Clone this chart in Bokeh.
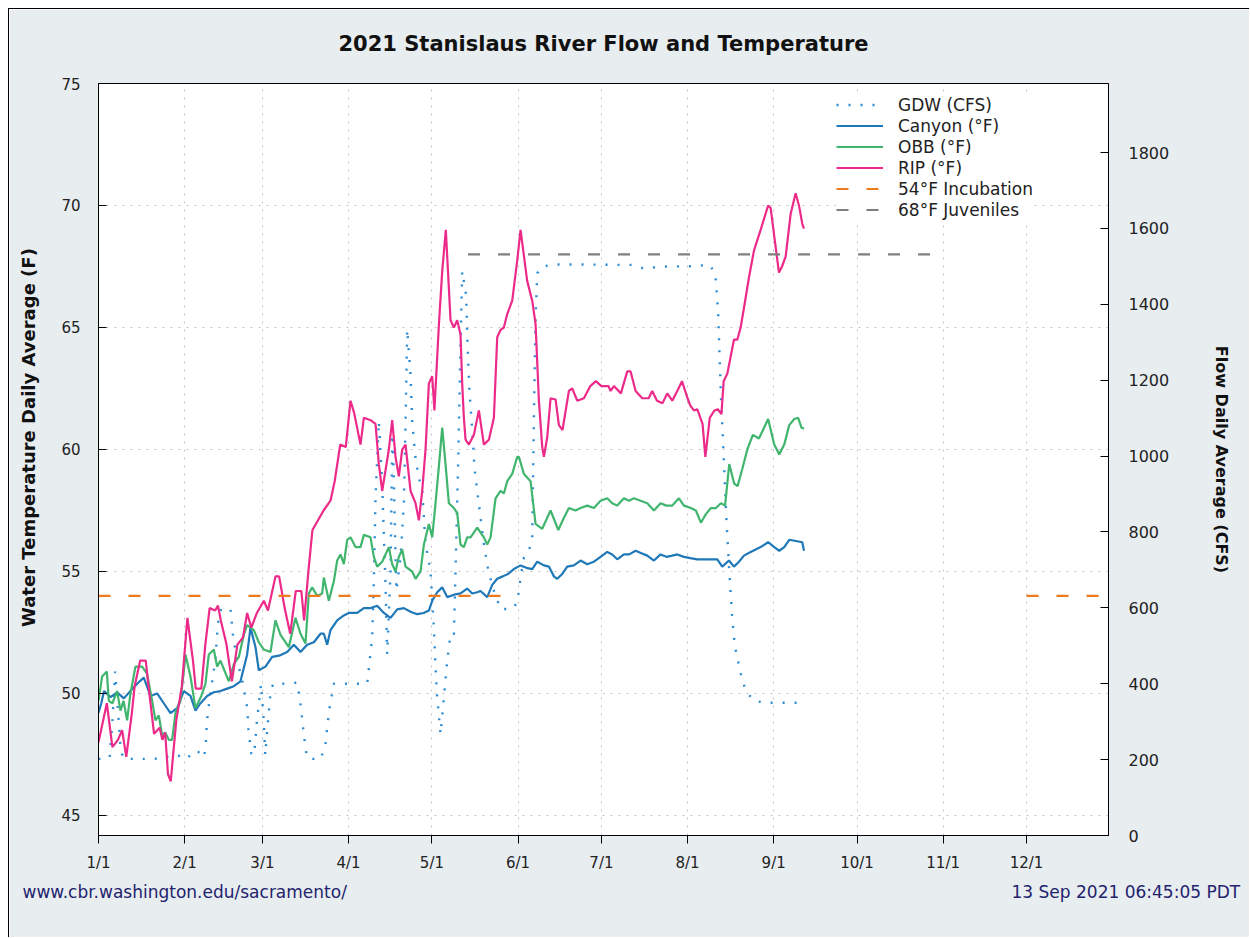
from bokeh.plotting import figure
from bokeh.models import Range1d, LinearAxis, FixedTicker, Legend, LegendItem, Title
from bokeh.embed import file_html
from bokeh.resources import INLINE

# ---------------- data ----------------
month_days = [0, 31, 59, 90, 120, 151, 181, 212, 243, 273, 304, 334]
month_labels = ["1/1", "2/1", "3/1", "4/1", "5/1", "6/1", "7/1", "8/1", "9/1", "10/1", "11/1", "12/1"]
temp_ticks = [45, 50, 55, 60, 65, 70, 75]
flow_ticks = [0, 200, 400, 600, 800, 1000, 1200, 1400, 1600, 1800]

gdw_day = [0, 2, 4, 5, 6, 7, 8, 9, 12, 16, 20, 24, 26, 29, 32, 34, 36, 38, 38.6, 39, 40, 41, 42, 43, 44,
           46, 47.5, 48.5, 50, 52, 53.5, 54, 55, 56, 57, 58.5, 59.5, 60, 61, 62, 63, 66, 69, 71.5, 72.7,
           74, 75, 77, 80, 81.7, 83, 84.7, 88, 92, 96.7, 98.5, 99.1, 99.7, 100.9, 102.1, 103.3, 103.9,
           105.1, 105.8, 107.2, 108.7, 109.9, 110.5, 111.1, 112.3, 112.9, 114.1, 115.3, 116.5, 117.7,
           119.5, 120.7, 121.3, 121.9, 123.1, 125.5, 126.7, 127.9, 128.5, 129.5, 130.3, 130.9, 132.3,
           132.9, 133.5, 134.7, 135.3, 136.3, 137.5, 138.7, 140.3, 142.3, 144.7, 148.9, 150.7, 151.9,
           153.1, 154.9, 156.1, 156.7, 157.3, 157.9, 159.7, 165, 175, 185, 192, 196, 205, 212, 220,
           222, 223, 224, 225, 226, 227, 228, 229, 231, 233, 236, 240, 245, 253]
gdw_cfs = [202, 202, 205, 300, 432, 330, 225, 204, 202, 202, 202, 205, 212, 210, 202, 222, 220, 206, 240,
           300, 360, 410, 460, 560, 594, 598, 598, 520, 460, 400, 338, 276, 216, 212, 300, 399, 300, 212,
           300, 385, 400, 400, 401, 403, 346, 260, 206, 202, 202, 242, 330, 400, 400, 400, 400, 522, 671,
           890, 1092, 925, 662, 478, 697, 1090, 645, 732, 873, 1083, 1334, 1215, 1092, 995, 943, 908, 768,
           697, 548, 443, 364, 267, 460, 531, 530, 700, 1000, 1300, 1487, 1425, 1276, 1171, 1048, 969,
           908, 838, 768, 697, 645, 597, 597, 614, 680, 732, 750, 785, 1101, 1364, 1482, 1500, 1505,
           1505, 1504, 1504, 1495, 1500, 1500, 1504, 1480, 1380, 1160, 1000, 830, 700, 583, 500, 430,
           380, 355, 350, 350, 350]

canyon_day = [0, 1, 2, 4.3, 6.7, 9.1, 11.5, 13.9, 16.3, 18.7, 21.1, 23.5, 25.9, 28.3, 30.7, 33.1, 34.9,
              36.7, 39.1, 41.5, 43.9, 46.3, 48.7, 51.1, 53.5, 54.7, 56.5, 57.7, 60.1, 62.5, 65, 67.9, 70.3,
              72.7, 75.1, 77.5, 79.9, 81.1, 82.3, 83.5, 85.9, 88.3, 90.1, 93.1, 95.5, 98, 100.3, 102.7,
              105.1, 107.5, 109.9, 112.3, 114.7, 117, 118.9, 120.1, 121.9, 123.7, 125.5, 128, 130.3, 132.7,
              134.5, 136.3, 137.5, 139.9, 141.7, 143.5, 145.5, 147.4, 149.5, 151.9, 154, 156.1, 157.9,
              160.3, 162.1, 163.9, 165.1, 166.9, 168.7, 171.1, 173.5, 175.9, 178.3, 180.7, 183.1, 184.9,
              186.7, 189.1, 191, 193.3, 195.4, 197.5, 199.9, 202.3, 204.4, 206.5, 208.3, 210.7, 213,
              215.5, 218, 220.4, 222.7, 224.5, 226.9, 228.7, 230.5, 232.3, 234.7, 236.5, 238.3, 241,
              243.2, 245, 246.8, 248.6, 251, 253.3, 253.9]
canyon_f = [49.2, 49.6, 50.1, 49.85, 50.05, 49.8, 50.1, 50.4, 50.65, 49.9, 50.0, 49.6, 49.2, 49.4, 50.1,
            49.9, 49.3, 49.6, 49.9, 50.05, 50.1, 50.2, 50.3, 50.5, 51.6, 52.7, 51.9, 50.95, 51.1, 51.5,
            51.55, 51.7, 52.0, 51.7, 52.0, 52.1, 52.45, 52.45, 52.0, 52.6, 53.0, 53.2, 53.3, 53.3, 53.5,
            53.5, 53.6, 53.3, 53.1, 53.45, 53.5, 53.35, 53.25, 53.3, 53.4, 53.8, 54.15, 54.35, 53.95, 54.05,
            54.1, 54.3, 54.1, 54.15, 54.2, 53.95, 54.45, 54.7, 54.8, 54.9, 55.1, 55.25, 55.15, 55.1, 55.4,
            55.25, 55.2, 54.8, 54.7, 54.9, 55.2, 55.25, 55.45, 55.3, 55.4, 55.6, 55.8, 55.7, 55.5, 55.7,
            55.7, 55.85, 55.75, 55.65, 55.45, 55.7, 55.6, 55.65, 55.7, 55.6, 55.55, 55.5, 55.5, 55.5,
            55.5, 55.2, 55.45, 55.2, 55.4, 55.65, 55.8, 55.9, 56.0, 56.2, 56.0, 55.85, 56.0, 56.3, 56.25,
            56.2, 55.85]

obb_day = [0, 1.3, 3, 3.7, 5, 6.7, 7.9, 9, 10.3, 11.5, 13.3, 15.7, 17.5, 19.3, 20.5, 21.7, 22.9, 24, 25.3,
           26.5, 27.7, 29.5, 30.7, 31.3, 33.1, 34.9, 37, 38.5, 39.7, 41.5, 42.7, 43.9, 46.9, 48.7, 50.5,
           52.3, 53.5, 55.9, 57.7, 59.5, 61.9, 63.7, 65.5, 68.5, 70.9, 72.7, 74.5, 75.7, 76.9, 78.7, 80.5,
           81.1, 82.9, 84.7, 85.9, 87.1, 88.3, 89.5, 90.7, 92.5, 94.3, 95.5, 97.9, 99.1, 100.3, 102.1,
           104.5, 105.7, 106.9, 108.1, 109.3, 110.5, 112.9, 114.1, 115.9, 117.1, 118.9, 120.1, 121.3,
           122.5, 123.7, 124.9, 126.1, 127.9, 129.1, 130.3, 131.5, 132.7, 133.9, 136.3, 138.7, 139.9,
           141.1, 142.9, 144.7, 145.9, 147.1, 148.9, 150.7, 151.3, 153.1, 155.5, 157.3, 159.7, 161.5,
           162.7, 165.5, 167.5,
           169.3, 171.7, 173.5, 175.9, 178.3, 180.7, 183.1, 184.9, 186.7, 189.1, 190.9, 192.7, 195.1,
           197.5, 199.9, 202.3, 204.4, 206.5, 208.9, 210.7, 213.2, 215, 216.8, 218.6, 220.4, 222.2, 224,
           225.5, 227, 228.8, 230, 231.7, 233.5, 235.5, 237.7, 241, 243.2, 245, 246.8, 248.6, 250.4,
           251.8, 253, 253.9]
obb_f = [49.7, 50.7, 50.9, 49.7, 49.6, 50.1, 49.3, 49.7, 48.9, 50.0, 51.1, 51.1, 50.8, 49.7, 48.9, 49.1,
         48.3, 48.4, 48.1, 48.1, 49.2, 49.7, 50.9, 51.6, 50.7, 49.4, 49.9, 50.4, 51.6, 51.8, 51.1, 51.35,
         50.5, 51.2, 51.5, 52.4, 52.8, 52.6, 52.1, 51.8, 51.7, 53.0, 52.4, 51.9, 53.1, 52.45, 52.05, 54.1,
         54.35, 54.0, 54.1, 54.75, 53.8, 54.6, 55.45, 55.7, 55.3, 56.3, 56.4, 56.0, 56.0, 56.5, 56.4,
         55.6, 55.2, 55.4, 56.0, 55.3, 55.0, 55.6, 55.9, 55.2, 55.0, 54.7, 55.0, 56.1, 56.95, 56.4, 57.8,
         59.3, 60.9, 59.4, 57.8, 57.6, 57.4, 56.1, 56.0, 56.4, 56.4, 56.8, 56.4, 56.1,
         56.4, 58.0, 58.3, 58.2, 58.7, 59.0, 59.7, 59.7, 59.0, 58.7, 56.95, 56.75, 57.2,
         57.5, 56.7, 57.2,
         57.6, 57.5, 57.6, 57.7, 57.6, 57.9,
         58.0, 57.8, 57.7, 58.0, 57.9, 58.0, 57.9, 57.8, 57.5, 57.8, 57.7, 57.7, 58.0, 57.7, 57.6, 57.5,
         57.0, 57.35, 57.6, 57.6, 57.8, 57.7, 59.4, 58.6, 58.5, 59.2, 60.0, 60.6, 60.45, 61.25, 60.2,
         59.8, 60.2, 61.0, 61.25, 61.3, 60.9, 60.85]

rip_day = [0, 3, 5, 7, 8.5, 10, 12, 13, 15, 17, 18, 20, 22, 23, 24, 25, 26, 28, 30, 32, 34, 35, 37, 38.5,
           40, 42, 43, 44, 46, 48, 50, 52, 53.5, 55, 57, 59.5, 61, 63.7, 65, 67, 69, 71, 73, 74, 75.7, 77,
           79, 81, 83.5, 85, 87, 89, 90.7, 92, 94.3, 95.5, 97.9, 99.7, 100.9, 102.1, 104.5, 105.7, 106.9,
           108.1, 109.3, 110.5, 112.3, 114.1, 115.3, 116.5, 117.7, 118.9, 120.1, 120.9, 122.5, 123.7,
           125, 126.7, 127.9, 129.1, 130.3, 130.9, 131.5, 132.1, 133.3, 135.1, 136.9, 138.7, 140.5,
           142.3, 143.5, 144.7, 145.9, 147.1, 148.9, 150.7, 151.9, 154.3, 156.1, 157.3, 158.5, 159.7,
           160.3, 161.5, 162.7, 164.5, 165.7, 167, 169.3,
           170.5, 172.3, 174.7, 177, 179, 181, 183.5, 184.3, 185.5, 188, 190.3, 191.5, 193.3, 195.7,
           198, 199.3, 201, 203, 204.7, 206.5, 208.3, 210, 212, 213, 214.3, 215.5, 217.4, 218.4, 220,
           221.7, 222.9, 224.2, 225, 226.3, 228.7, 229.9, 231.1, 232.3, 234.1, 235.9, 238.3, 241,
           241.9, 243.7, 244.9, 246, 247.3, 249.1, 250.9, 252.1, 253.3, 253.9]
rip_f = [48.0, 49.6, 47.8, 48.1, 48.5, 47.4, 49.2, 50.3, 51.35, 51.35, 50.3, 48.35, 48.6, 48.1, 48.4,
         46.7, 46.4, 48.9, 50.3, 53.1, 51.35, 50.2, 50.2, 52.05, 53.5, 53.4, 53.6, 53.0, 52.05, 50.5,
         52.0, 52.3, 53.3, 52.7, 53.3, 53.8, 53.4, 54.8, 54.8, 53.5, 52.45, 54.2, 54.2, 53.0, 55.2, 56.7,
         57.1, 57.5, 57.9, 58.7, 60.2, 60.1, 62.0, 61.5, 60.2, 61.3, 61.2, 61.05, 59.4, 58.3, 60.0, 61.2,
         59.7, 58.9, 60.0, 60.2, 58.3, 57.8, 57.1, 58.3, 60.0, 62.7, 63.0, 61.6, 65.1, 67.3,
         69.0, 65.3, 65.0, 65.3, 64.7, 62.7, 61.3, 60.4, 60.2, 60.6, 61.6, 60.2, 60.4,
         61.3, 64.6, 64.9, 65.0, 65.55, 66.1, 67.75, 69.0, 66.9, 66.1, 65.15, 62.0, 60.1,
         59.7, 60.5, 62.1, 62.05, 61.0, 60.8, 62.4,
         62.5, 62.0,
         62.1, 62.6, 62.8, 62.6, 62.6, 62.4, 62.6, 62.3, 63.2, 63.2, 62.4, 62.1, 62.1, 62.4, 62.0, 61.9,
         62.3, 62.0, 62.4, 62.8, 62.1, 61.8, 61.6, 61.65, 61.05, 59.7, 61.3, 61.6, 61.65, 61.45, 62.8,
         63.1, 64.5, 64.5, 65.0, 65.8, 67.05, 68.15, 69.0, 70.0, 69.9, 68.3, 67.25, 67.5, 67.9, 69.65,
         70.5, 70.0, 69.25, 69.05]

incubation_periods = [[0, 150], [334, 365]]   # day of year (Jan 1 - May 31, Dec 1 - Dec 31)
incubation_temp = 54
juvenile_period = [133, 304]                  # May 14 - Nov 1
juvenile_temp = 68

title_text = "2021 Stanislaus River Flow and Temperature"
left_label_text = "Water Temperature Daily Average (F)"
right_label_text = "Flow Daily Average (CFS)"
footer_left = "www.cbr.washington.edu/sacramento/"
footer_right = "13 Sep 2021 06:45:05 PDT"

# ---------------- figure ----------------
FONT = "DejaVu Sans"
NBSP = "\u00a0"
p = figure(width=1241, height=929, output_backend="svg", toolbar_location=None,
           x_range=Range1d(0, 363.5), y_range=Range1d(44.18, 75),
           min_border_left=89, min_border_right=142, min_border_top=74, min_border_bottom=103)
p.extra_y_ranges = {"flow": Range1d(0, 1982)}

p.background_fill_color = "white"
p.border_fill_color = "#e8edf0"
p.outline_line_color = "black"
p.outline_line_width = 1

# bottom axis
xa = p.below[0]
xa.ticker = FixedTicker(ticks=month_days)
xa.major_label_overrides = {d: l for d, l in zip(month_days, month_labels)}
xa.major_tick_in = 0
xa.major_tick_out = 8
xa.minor_tick_line_color = None
xa.major_label_text_font = FONT
xa.major_label_text_font_size = "15px"
xa.major_label_text_color = "#222222"
xa.major_label_standoff = 10
xa.axis_line_color = "black"

# left axis
ya = p.left[0]
ya.ticker = FixedTicker(ticks=temp_ticks)
ya.major_tick_in = 8
ya.major_tick_out = 0
ya.minor_tick_line_color = None
ya.major_label_text_font = FONT
ya.major_label_text_font_size = "15px"
ya.major_label_text_color = "#222222"
ya.major_label_standoff = 18
ya.axis_label = NBSP * 7 + left_label_text
ya.axis_label_text_font = FONT
ya.axis_label_text_font_size = "18px"
ya.axis_label_text_font_style = "bold"
ya.axis_label_text_color = "#111111"
ya.axis_label_standoff = 19

# title, drawn as the label of an empty axis above the frame
ta = LinearAxis(ticker=FixedTicker(ticks=[]))
ta.axis_line_color = None
ta.major_tick_line_color = None
ta.minor_tick_line_color = None
ta.major_tick_in = 0
ta.major_tick_out = 0
ta.major_label_standoff = 0
ta.axis_label = title_text
ta.axis_label_text_font = FONT
ta.axis_label_text_font_size = "21px"
ta.axis_label_text_font_style = "bold"
ta.axis_label_text_color = "#111111"
ta.axis_label_standoff = 28
p.add_layout(ta, "above")

# right axis
ra = LinearAxis(y_range_name="flow", ticker=FixedTicker(ticks=flow_ticks))
ra.major_tick_in = 8
ra.major_tick_out = 0
ra.minor_tick_line_color = None
ra.major_label_text_font = FONT
ra.major_label_text_font_size = "16px"
ra.major_label_text_color = "#222222"
ra.major_label_standoff = 20
ra.axis_label = right_label_text
ra.axis_label_text_font = FONT
ra.axis_label_text_font_size = "16px"
ra.axis_label_text_font_style = "bold"
ra.axis_label_text_color = "#111111"
ra.axis_label_standoff = 40
p.add_layout(ra, "right")

# empty spacer axis below the x axis, then the footer line as a left-aligned title
sp = LinearAxis(ticker=FixedTicker(ticks=[]))
sp.axis_line_color = None
sp.major_tick_line_color = None
sp.minor_tick_line_color = None
sp.major_tick_in = 0
sp.major_tick_out = 50
sp.major_label_standoff = 0
p.add_layout(sp, "below")

footer = Title(text=footer_left + NBSP * 123 + footer_right, align="left", offset=-76,
               text_font=FONT, text_font_size="17px", text_font_style="normal",
               text_color="#23236e")
p.add_layout(footer, "below")

# grids
p.xgrid.ticker = FixedTicker(ticks=month_days)
p.ygrid.ticker = FixedTicker(ticks=temp_ticks)
for g in p.xgrid:
    g.grid_line_color = "#c4c4c4"
    g.grid_line_dash = "2 6"
    g.grid_line_width = 1
for g in p.ygrid:
    g.grid_line_color = "#c4c4c4"
    g.grid_line_dash = "2 6"
    g.grid_line_width = 1

# series
r_gdw = p.line(gdw_day, gdw_cfs, y_range_name="flow", line_color="#2b8bd3",
               line_width=2.4, line_dash="2 10")
r_can = p.line(canyon_day, canyon_f, line_color="#1f78b8", line_width=2.2)
r_obb = p.line(obb_day, obb_f, line_color="#40b56d", line_width=2.2)
r_rip = p.line(rip_day, rip_f, line_color="#ec2a8a", line_width=2.2)
r_inc = p.multi_line(incubation_periods, [[incubation_temp] * 2 for _ in incubation_periods],
                     line_color="#ee7a1e", line_width=2.2, line_dash="12 18")
r_juv = p.line(juvenile_period, [juvenile_temp] * 2, line_color="#7f7f7f",
               line_width=2.2, line_dash="12 18")

legend = Legend(items=[
    LegendItem(label="GDW (CFS)", renderers=[r_gdw]),
    LegendItem(label="Canyon (°F)", renderers=[r_can]),
    LegendItem(label="OBB (°F)", renderers=[r_obb]),
    LegendItem(label="RIP (°F)", renderers=[r_rip]),
    LegendItem(label="54°F Incubation", renderers=[r_inc]),
    LegendItem(label="68°F Juveniles", renderers=[r_juv]),
], location=(738, 615))
legend.padding = 0
legend.margin = 0
legend.spacing = 0
legend.glyph_width = 47
legend.glyph_height = 21
legend.label_height = 21
legend.label_standoff = 15
legend.label_text_font = FONT
legend.label_text_font_size = "17px"
legend.label_text_color = "#222222"
legend.background_fill_color = "white"
legend.background_fill_alpha = 1.0
legend.border_line_color = None
p.add_layout(legend)

p.styles = {"margin-left": "8px", "margin-top": "8px",
            "border-top": "1px solid #000", "border-left": "1px solid #000"}

open("out.html", "w").write(file_html(p, INLINE))
